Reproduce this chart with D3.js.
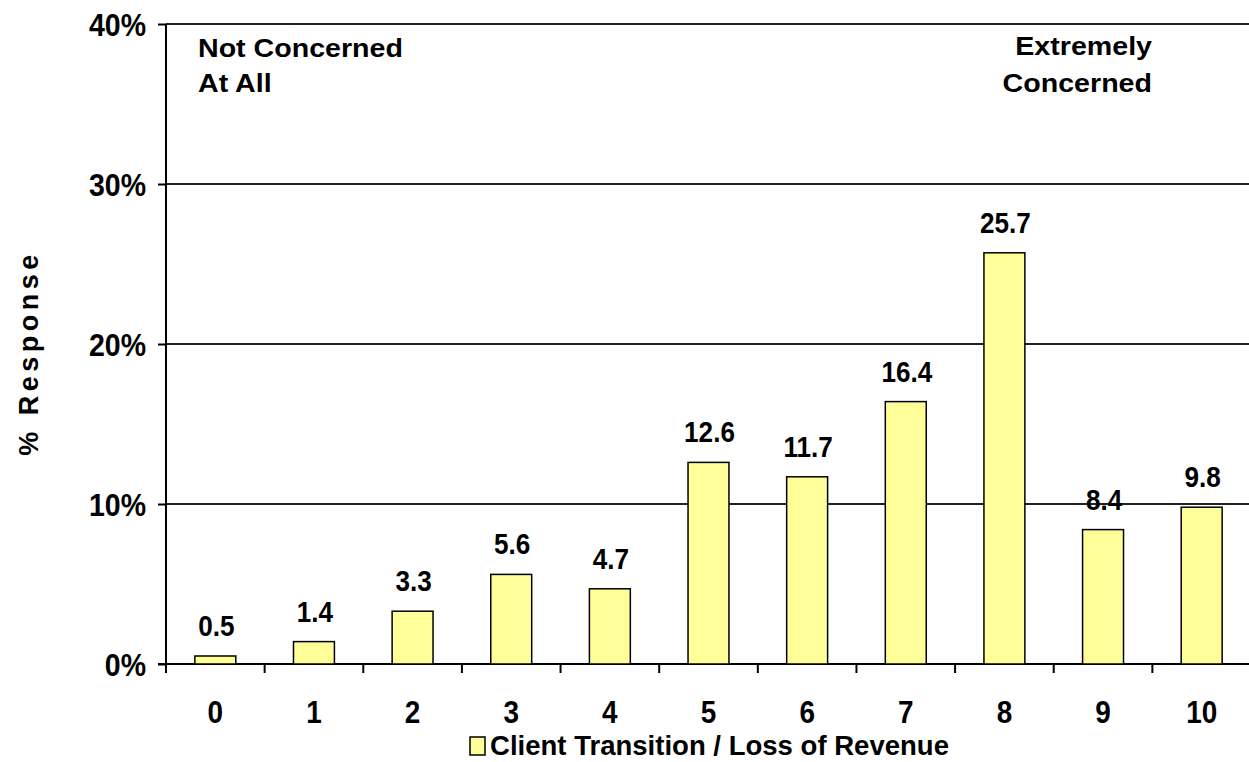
<!DOCTYPE html>
<html>
<head>
<meta charset="utf-8">
<script src="https://cdn.jsdelivr.net/npm/d3@7"></script>
<style>
  html, body { margin: 0; padding: 0; background: #fff; }
  svg { display: block; }
  text { font-family: "Liberation Sans", Arial, sans-serif; font-weight: bold; fill: #000; }
</style>
</head>
<body>
<svg id="chart" width="1249" height="762"></svg>
<script>
// chart data
const categories = ['0', '1', '2', '3', '4', '5', '6', '7', '8', '9', '10'];
const values = [0.5, 1.4, 3.3, 5.6, 4.7, 12.6, 11.7, 16.4, 25.7, 8.4, 9.8];
const yTicks = [0, 10, 20, 30, 40];
const seriesName = 'Client Transition / Loss of Revenue';
const leftNote = ['Not Concerned', 'At All'];
const rightNote = ['Extremely', 'Concerned'];
const yTitle = '% Response';

window.onload = () => {

  const svg = d3.select('#chart');
  const margin = { left: 166, top: 24, bottom: 664, right: 1251 };

  const x = d3.scaleBand()
              .domain(categories)
              .range([margin.left, margin.right])
              .paddingInner(0.585)
              .paddingOuter(0.2925);

  const y = d3.scaleLinear()
              .domain([0, 40])
              .range([margin.bottom, margin.top]);

  // helper for the slightly squeezed / stretched bold text
  function label(g, txt, px, py, size, sx, anchor) {
    return g.append('text')
            .attr('transform', `translate(${px},${py}) scale(${sx},1)`)
            .attr('text-anchor', anchor)
            .style('font-size', size + 'px')
            .text(txt);
  }

  // gridlines
  svg.append('g')
     .selectAll('line')
     .data(yTicks.filter(d => d > 0))
     .enter()
     .append('line')
       .attr('x1', margin.left)
       .attr('x2', margin.right)
       .attr('y1', d => y(d))
       .attr('y2', d => y(d))
       .attr('stroke', '#222')
       .attr('stroke-width', 2);

  // y axis
  const yAxis = d3.axisLeft(y)
                  .tickValues(yTicks)
                  .tickSize(8)
                  .tickFormat(d => d + '%');

  const gy = svg.append('g')
                .attr('transform', `translate(${margin.left},0)`)
                .call(yAxis);
  gy.select('.domain').remove();
  gy.selectAll('line').attr('stroke', '#000').attr('stroke-width', 2);
  gy.selectAll('text').remove();
  gy.selectAll('.tick').each(function(d) {
    label(d3.select(this), d + '%', -20, 11, 31, 0.92, 'end');
  });

  svg.append('line')
     .attr('x1', margin.left).attr('x2', margin.left)
     .attr('y1', margin.top).attr('y2', margin.bottom)
     .attr('stroke', '#000').attr('stroke-width', 2);

  // x axis ticks sit on band edges
  svg.append('g')
     .selectAll('line')
     .data(categories)
     .enter()
     .append('line')
       .attr('x1', d => x(d) + x.bandwidth() / 2 - x.step() / 2)
       .attr('x2', d => x(d) + x.bandwidth() / 2 - x.step() / 2)
       .attr('y1', margin.bottom)
       .attr('y2', margin.bottom + 9)
       .attr('stroke', '#000')
       .attr('stroke-width', 2);

  svg.append('line')
     .attr('x1', margin.left - 8).attr('x2', margin.right)
     .attr('y1', margin.bottom).attr('y2', margin.bottom)
     .attr('stroke', '#000').attr('stroke-width', 2);

  const gx = svg.append('g');
  categories.forEach(c => {
    label(gx, c, x(c) + x.bandwidth() / 2, 723, 31, 0.9, 'middle');
  });

  // bars
  svg.append('g')
     .selectAll('rect')
     .data(values)
     .enter()
     .append('rect')
       .attr('x', (d, i) => x(categories[i]))
       .attr('y', d => y(d))
       .attr('width', x.bandwidth())
       .attr('height', d => y(0) - y(d))
       .attr('fill', '#FFFF99')
       .attr('stroke', '#000')
       .attr('stroke-width', 1.5);

  // value labels
  const gl = svg.append('g');
  values.forEach((v, i) => {
    label(gl, v.toFixed(1), x(categories[i]) + x.bandwidth() / 2 + 1, y(v) - 20, 30, 0.87, 'middle');
  });

  // corner notes
  const gn = svg.append('g');
  leftNote.forEach((t, i) => label(gn, t, 198, 57 + i * 35, 26, 1.1, 'start'));
  rightNote.forEach((t, i) => label(gn, t, 1152, 55 + i * 37, 26, 1.1, 'end'));

  // y title
  svg.append('text')
     .attr('transform', 'translate(38,353) rotate(-90)')
     .attr('text-anchor', 'middle')
     .style('font-size', '27px')
     .style('letter-spacing', '4.5px')
     .text(yTitle);

  // legend
  svg.append('rect')
     .attr('x', 470).attr('y', 737)
     .attr('width', 15).attr('height', 18)
     .attr('fill', '#FFFF99')
     .attr('stroke', '#000')
     .attr('stroke-width', 1.5);
  label(svg, seriesName, 490, 755, 27, 1.02, 'start');
};
</script>
</body>
</html>
